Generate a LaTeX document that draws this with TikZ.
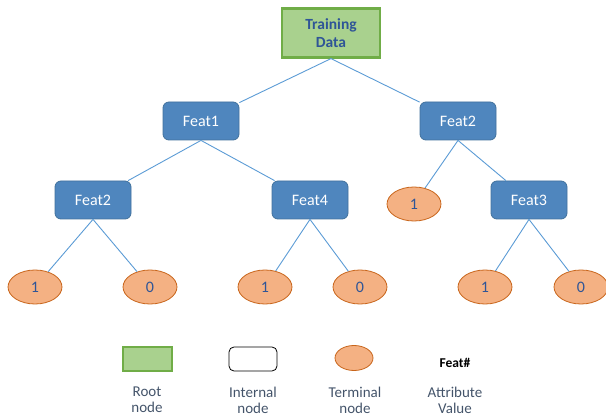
\documentclass[tikz,border=0pt]{standalone}
\usepackage{fontspec}
\setmainfont{Carlito}
\usetikzlibrary{shapes.geometric}
\definecolor{rootfill}{HTML}{A9D18E}
\definecolor{rootdraw}{HTML}{70AD47}
\definecolor{intfill}{HTML}{4F86BE}
\definecolor{intdraw}{HTML}{41719C}
\definecolor{leaffill}{HTML}{F4B183}
\definecolor{leafdraw}{HTML}{C8651B}
\definecolor{edgecol}{HTML}{5B9BD5}
\definecolor{txtblue}{HTML}{2F5597}
\definecolor{legtxt}{HTML}{44546A}
\tikzset{
  rootbox/.style={draw=rootdraw, line width=2.2pt, fill=rootfill, minimum width=98pt, minimum height=49pt, text=txtblue, font=\fontsize{15.5}{18}\selectfont\bfseries, align=center, inner sep=0pt},
  intbox/.style={draw=intdraw, line width=0.8pt, fill=intfill, rounded corners=6pt, minimum width=76pt, minimum height=38pt, text=white, font=\fontsize{16}{18}\selectfont, inner sep=0pt},
  leaf/.style={ellipse, draw=leafdraw, line width=0.8pt, fill=leaffill, minimum width=54pt, minimum height=34pt, text=txtblue, font=\fontsize{16}{18}\selectfont, inner sep=0pt},
  edge/.style={draw=edgecol, line width=0.9pt},
  legtext/.style={text=legtxt, font=\fontsize{15}{16}\selectfont, align=center},
}
\begin{document}
\begin{tikzpicture}[x=1pt,y=-1pt]
\useasboundingbox (0,0) rectangle (606,417);
\node[rootbox] (root) at (331,33) {Training\\Data};
\node[intbox] (f1) at (201,121) {Feat1};
\node[intbox] (f2r) at (458,121) {Feat2};
\node[intbox] (f2l) at (93,200) {Feat2};
\node[intbox] (f4) at (310,200) {Feat4};
\node[intbox] (f3) at (529,200) {Feat3};
\node[leaf] (l0) at (414,204) {1};
\node[leaf] (l1) at (35,287) {1};
\node[leaf] (l2) at (150,287) {0};
\node[leaf] (l3) at (265,287) {1};
\node[leaf] (l4) at (360,287) {0};
\node[leaf] (l5) at (485,287) {1};
\node[leaf] (l6) at (581,287) {0};
\draw[edge] (root.south) -- (f1);
\draw[edge] (root.south) -- (f2r);
\draw[edge] (f1.south) -- (f2l);
\draw[edge] (f1.south) -- (f4);
\draw[edge] (f2r.south) -- (l0);
\draw[edge] (f2r.south) -- (f3);
\draw[edge] (f2l.south) -- (l1);
\draw[edge] (f2l.south) -- (l2);
\draw[edge] (f4.south) -- (l3);
\draw[edge] (f4.south) -- (l4);
\draw[edge] (f3.south) -- (l5);
\draw[edge] (f3.south) -- (l6);
% legend
\node[draw=rootdraw, line width=2pt, fill=rootfill, minimum width=49pt, minimum height=24pt, inner sep=0pt] (lg1) at (147,359) {};
\node[draw=black, line width=0.8pt, fill=white, rounded corners=5pt, minimum width=48pt, minimum height=24pt, inner sep=0pt] (lg2) at (253,359) {};
\node[ellipse, draw=leafdraw, line width=0.8pt, fill=leaffill, minimum width=38pt, minimum height=25pt, inner sep=0pt] (lg3) at (354,358) {};
\node[font=\fontsize{13.5}{15}\selectfont\bfseries] (lg4) at (455,363) {Feat\#};
\node[legtext] (t1) at (147,400) {Root\\node};
\node[legtext] (t2) at (253,400) {Internal\\node};
\node[legtext] (t3) at (355,400) {Terminal\\node};
\node[legtext] (t4) at (455,400) {Attribute\\Value};
\end{tikzpicture}
\end{document}
